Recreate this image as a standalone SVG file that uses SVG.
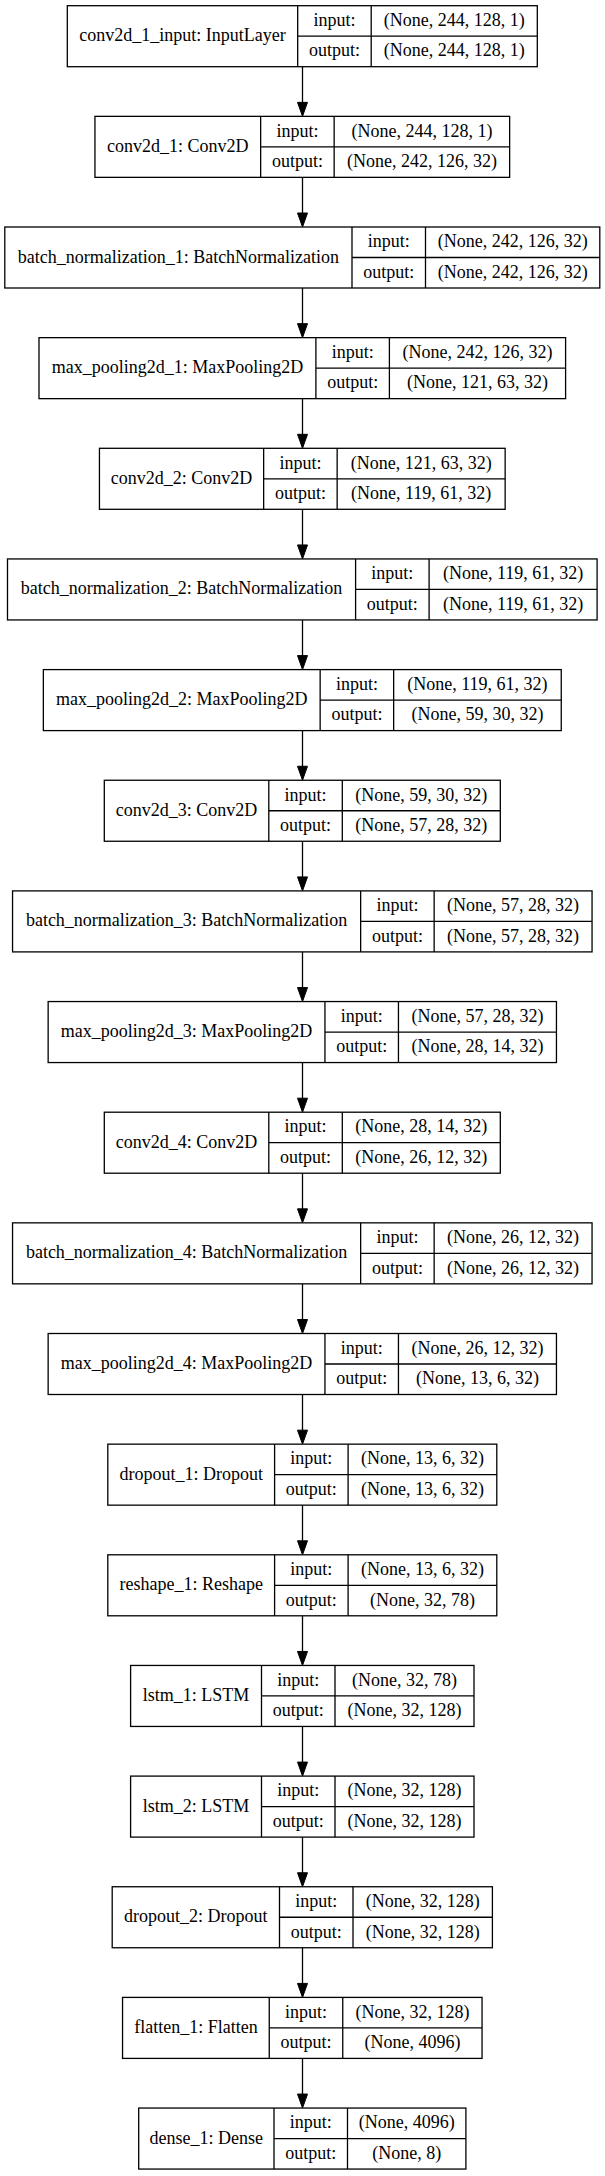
<svg xmlns="http://www.w3.org/2000/svg" width="605" height="2176" viewBox="0 0 605 2176">
<style>
.n rect{fill:#fff;stroke:#000;stroke-width:1.3}
.n path{fill:none;stroke:#000;stroke-width:1.3}
.n text{font-family:"Liberation Serif","Times New Roman",serif;font-size:18px;text-anchor:middle;fill:#000}
.e line{stroke:#000;stroke-width:1.3}
</style>
<defs>
<marker id="arr" markerUnits="userSpaceOnUse" markerWidth="15" markerHeight="11" refX="12" refY="5" orient="auto" overflow="visible">
<path d="M0,0 L14,5 L0,10 Z" fill="#000" stroke="#000" stroke-width="1"/>
</marker>
</defs>
<rect width="605" height="2176" fill="#fff"/>
<g id="edges" class="e">
<line x1="302.5" y1="66.7" x2="302.5" y2="114.35" marker-end="url(#arr)"/>
<line x1="302.5" y1="177.35" x2="302.5" y2="225" marker-end="url(#arr)"/>
<line x1="302.5" y1="288" x2="302.5" y2="335.65" marker-end="url(#arr)"/>
<line x1="302.5" y1="398.65" x2="302.5" y2="446.3" marker-end="url(#arr)"/>
<line x1="302.5" y1="509.3" x2="302.5" y2="556.95" marker-end="url(#arr)"/>
<line x1="302.5" y1="619.95" x2="302.5" y2="667.6" marker-end="url(#arr)"/>
<line x1="302.5" y1="730.6" x2="302.5" y2="778.25" marker-end="url(#arr)"/>
<line x1="302.5" y1="841.25" x2="302.5" y2="888.9" marker-end="url(#arr)"/>
<line x1="302.5" y1="951.9" x2="302.5" y2="999.55" marker-end="url(#arr)"/>
<line x1="302.5" y1="1062.55" x2="302.5" y2="1110.2" marker-end="url(#arr)"/>
<line x1="302.5" y1="1173.2" x2="302.5" y2="1220.85" marker-end="url(#arr)"/>
<line x1="302.5" y1="1283.85" x2="302.5" y2="1331.5" marker-end="url(#arr)"/>
<line x1="302.5" y1="1394.5" x2="302.5" y2="1442.15" marker-end="url(#arr)"/>
<line x1="302.5" y1="1505.15" x2="302.5" y2="1552.8" marker-end="url(#arr)"/>
<line x1="302.5" y1="1615.8" x2="302.5" y2="1663.45" marker-end="url(#arr)"/>
<line x1="302.5" y1="1726.45" x2="302.5" y2="1774.1" marker-end="url(#arr)"/>
<line x1="302.5" y1="1837.1" x2="302.5" y2="1884.75" marker-end="url(#arr)"/>
<line x1="302.5" y1="1947.75" x2="302.5" y2="1995.4" marker-end="url(#arr)"/>
<line x1="302.5" y1="2058.4" x2="302.5" y2="2106.05" marker-end="url(#arr)"/>
</g>
<g id="conv2d_1_input" class="n" transform="translate(0,5.7)">
<rect x="67.3" y="0" width="470" height="61"/>
<path d="M297.7,0V61M371.2,0V61M297.7,30.5H537.3"/>
<text x="182.5" y="35.5">conv2d_1_input: InputLayer</text>
<text x="334.45" y="20.25">input:</text><text x="334.45" y="50.75">output:</text>
<text x="454.25" y="20.25">(None, 244, 128, 1)</text><text x="454.25" y="50.75">(None, 244, 128, 1)</text>
</g>
<g id="conv2d_1" class="n" transform="translate(0,116.35)">
<rect x="94.95" y="0" width="414.7" height="61"/>
<path d="M260.65,0V61M334.15,0V61M260.65,30.5H509.65"/>
<text x="177.8" y="35.5">conv2d_1: Conv2D</text>
<text x="297.4" y="20.25">input:</text><text x="297.4" y="50.75">output:</text>
<text x="421.9" y="20.25">(None, 244, 128, 1)</text><text x="421.9" y="50.75">(None, 242, 126, 32)</text>
</g>
<g id="batch_normalization_1" class="n" transform="translate(0,227)">
<rect x="4.8" y="0" width="595" height="61"/>
<path d="M352,0V61M425.5,0V61M352,30.5H599.8"/>
<text x="178.4" y="35.5">batch_normalization_1: BatchNormalization</text>
<text x="388.75" y="20.25">input:</text><text x="388.75" y="50.75">output:</text>
<text x="512.65" y="20.25">(None, 242, 126, 32)</text><text x="512.65" y="50.75">(None, 242, 126, 32)</text>
</g>
<g id="max_pooling2d_1" class="n" transform="translate(0,337.65)">
<rect x="39" y="0" width="526.6" height="61"/>
<path d="M315.9,0V61M389.4,0V61M315.9,30.5H565.6"/>
<text x="177.45" y="35.5">max_pooling2d_1: MaxPooling2D</text>
<text x="352.65" y="20.25">input:</text><text x="352.65" y="50.75">output:</text>
<text x="477.5" y="20.25">(None, 242, 126, 32)</text><text x="477.5" y="50.75">(None, 121, 63, 32)</text>
</g>
<g id="conv2d_2" class="n" transform="translate(0,448.3)">
<rect x="99.45" y="0" width="405.7" height="61"/>
<path d="M263.65,0V61M337.15,0V61M263.65,30.5H505.15"/>
<text x="181.55" y="35.5">conv2d_2: Conv2D</text>
<text x="300.4" y="20.25">input:</text><text x="300.4" y="50.75">output:</text>
<text x="421.15" y="20.25">(None, 121, 63, 32)</text><text x="421.15" y="50.75">(None, 119, 61, 32)</text>
</g>
<g id="batch_normalization_2" class="n" transform="translate(0,558.95)">
<rect x="7.5" y="0" width="589.6" height="61"/>
<path d="M355.6,0V61M429.1,0V61M355.6,30.5H597.1"/>
<text x="181.55" y="35.5">batch_normalization_2: BatchNormalization</text>
<text x="392.35" y="20.25">input:</text><text x="392.35" y="50.75">output:</text>
<text x="513.1" y="20.25">(None, 119, 61, 32)</text><text x="513.1" y="50.75">(None, 119, 61, 32)</text>
</g>
<g id="max_pooling2d_2" class="n" transform="translate(0,669.6)">
<rect x="43.35" y="0" width="517.9" height="61"/>
<path d="M320.15,0V61M393.65,0V61M320.15,30.5H561.25"/>
<text x="181.75" y="35.5">max_pooling2d_2: MaxPooling2D</text>
<text x="356.9" y="20.25">input:</text><text x="356.9" y="50.75">output:</text>
<text x="477.45" y="20.25">(None, 119, 61, 32)</text><text x="477.45" y="50.75">(None, 59, 30, 32)</text>
</g>
<g id="conv2d_3" class="n" transform="translate(0,780.25)">
<rect x="104.3" y="0" width="396" height="61"/>
<path d="M268.8,0V61M342.3,0V61M268.8,30.5H500.3"/>
<text x="186.55" y="35.5">conv2d_3: Conv2D</text>
<text x="305.55" y="20.25">input:</text><text x="305.55" y="50.75">output:</text>
<text x="421.3" y="20.25">(None, 59, 30, 32)</text><text x="421.3" y="50.75">(None, 57, 28, 32)</text>
</g>
<g id="batch_normalization_3" class="n" transform="translate(0,890.9)">
<rect x="12.55" y="0" width="579.5" height="61"/>
<path d="M360.65,0V61M434.15,0V61M360.65,30.5H592.05"/>
<text x="186.6" y="35.5">batch_normalization_3: BatchNormalization</text>
<text x="397.4" y="20.25">input:</text><text x="397.4" y="50.75">output:</text>
<text x="513.1" y="20.25">(None, 57, 28, 32)</text><text x="513.1" y="50.75">(None, 57, 28, 32)</text>
</g>
<g id="max_pooling2d_3" class="n" transform="translate(0,1001.55)">
<rect x="48.15" y="0" width="508.3" height="61"/>
<path d="M324.95,0V61M398.45,0V61M324.95,30.5H556.45"/>
<text x="186.55" y="35.5">max_pooling2d_3: MaxPooling2D</text>
<text x="361.7" y="20.25">input:</text><text x="361.7" y="50.75">output:</text>
<text x="477.45" y="20.25">(None, 57, 28, 32)</text><text x="477.45" y="50.75">(None, 28, 14, 32)</text>
</g>
<g id="conv2d_4" class="n" transform="translate(0,1112.2)">
<rect x="104.3" y="0" width="396" height="61"/>
<path d="M268.8,0V61M342.3,0V61M268.8,30.5H500.3"/>
<text x="186.55" y="35.5">conv2d_4: Conv2D</text>
<text x="305.55" y="20.25">input:</text><text x="305.55" y="50.75">output:</text>
<text x="421.3" y="20.25">(None, 28, 14, 32)</text><text x="421.3" y="50.75">(None, 26, 12, 32)</text>
</g>
<g id="batch_normalization_4" class="n" transform="translate(0,1222.85)">
<rect x="12.55" y="0" width="579.5" height="61"/>
<path d="M360.65,0V61M434.15,0V61M360.65,30.5H592.05"/>
<text x="186.6" y="35.5">batch_normalization_4: BatchNormalization</text>
<text x="397.4" y="20.25">input:</text><text x="397.4" y="50.75">output:</text>
<text x="513.1" y="20.25">(None, 26, 12, 32)</text><text x="513.1" y="50.75">(None, 26, 12, 32)</text>
</g>
<g id="max_pooling2d_4" class="n" transform="translate(0,1333.5)">
<rect x="48.15" y="0" width="508.3" height="61"/>
<path d="M324.95,0V61M398.45,0V61M324.95,30.5H556.45"/>
<text x="186.55" y="35.5">max_pooling2d_4: MaxPooling2D</text>
<text x="361.7" y="20.25">input:</text><text x="361.7" y="50.75">output:</text>
<text x="477.45" y="20.25">(None, 26, 12, 32)</text><text x="477.45" y="50.75">(None, 13, 6, 32)</text>
</g>
<g id="dropout_1" class="n" transform="translate(0,1444.15)">
<rect x="107.8" y="0" width="389" height="61"/>
<path d="M274.6,0V61M348.1,0V61M274.6,30.5H496.8"/>
<text x="191.2" y="35.5">dropout_1: Dropout</text>
<text x="311.35" y="20.25">input:</text><text x="311.35" y="50.75">output:</text>
<text x="422.45" y="20.25">(None, 13, 6, 32)</text><text x="422.45" y="50.75">(None, 13, 6, 32)</text>
</g>
<g id="reshape_1" class="n" transform="translate(0,1554.8)">
<rect x="107.8" y="0" width="389" height="61"/>
<path d="M274.6,0V61M348.1,0V61M274.6,30.5H496.8"/>
<text x="191.2" y="35.5">reshape_1: Reshape</text>
<text x="311.35" y="20.25">input:</text><text x="311.35" y="50.75">output:</text>
<text x="422.45" y="20.25">(None, 13, 6, 32)</text><text x="422.45" y="50.75">(None, 32, 78)</text>
</g>
<g id="lstm_1" class="n" transform="translate(0,1665.45)">
<rect x="130.6" y="0" width="343.4" height="61"/>
<path d="M261.5,0V61M335,0V61M261.5,30.5H474"/>
<text x="196.05" y="35.5">lstm_1: LSTM</text>
<text x="298.25" y="20.25">input:</text><text x="298.25" y="50.75">output:</text>
<text x="404.5" y="20.25">(None, 32, 78)</text><text x="404.5" y="50.75">(None, 32, 128)</text>
</g>
<g id="lstm_2" class="n" transform="translate(0,1776.1)">
<rect x="130.6" y="0" width="343.4" height="61"/>
<path d="M261.5,0V61M335,0V61M261.5,30.5H474"/>
<text x="196.05" y="35.5">lstm_2: LSTM</text>
<text x="298.25" y="20.25">input:</text><text x="298.25" y="50.75">output:</text>
<text x="404.5" y="20.25">(None, 32, 128)</text><text x="404.5" y="50.75">(None, 32, 128)</text>
</g>
<g id="dropout_2" class="n" transform="translate(0,1886.75)">
<rect x="112.2" y="0" width="380.2" height="61"/>
<path d="M279.5,0V61M353,0V61M279.5,30.5H492.4"/>
<text x="195.85" y="35.5">dropout_2: Dropout</text>
<text x="316.25" y="20.25">input:</text><text x="316.25" y="50.75">output:</text>
<text x="422.7" y="20.25">(None, 32, 128)</text><text x="422.7" y="50.75">(None, 32, 128)</text>
</g>
<g id="flatten_1" class="n" transform="translate(0,1997.4)">
<rect x="122.55" y="0" width="359.5" height="61"/>
<path d="M269.25,0V61M342.75,0V61M269.25,30.5H482.05"/>
<text x="195.9" y="35.5">flatten_1: Flatten</text>
<text x="306" y="20.25">input:</text><text x="306" y="50.75">output:</text>
<text x="412.4" y="20.25">(None, 32, 128)</text><text x="412.4" y="50.75">(None, 4096)</text>
</g>
<g id="dense_1" class="n" transform="translate(0,2108.05)">
<rect x="138.7" y="0" width="327.2" height="61"/>
<path d="M274,0V61M347.5,0V61M274,30.5H465.9"/>
<text x="206.35" y="35.5">dense_1: Dense</text>
<text x="310.75" y="20.25">input:</text><text x="310.75" y="50.75">output:</text>
<text x="406.7" y="20.25">(None, 4096)</text><text x="406.7" y="50.75">(None, 8)</text>
</g>
</svg>
